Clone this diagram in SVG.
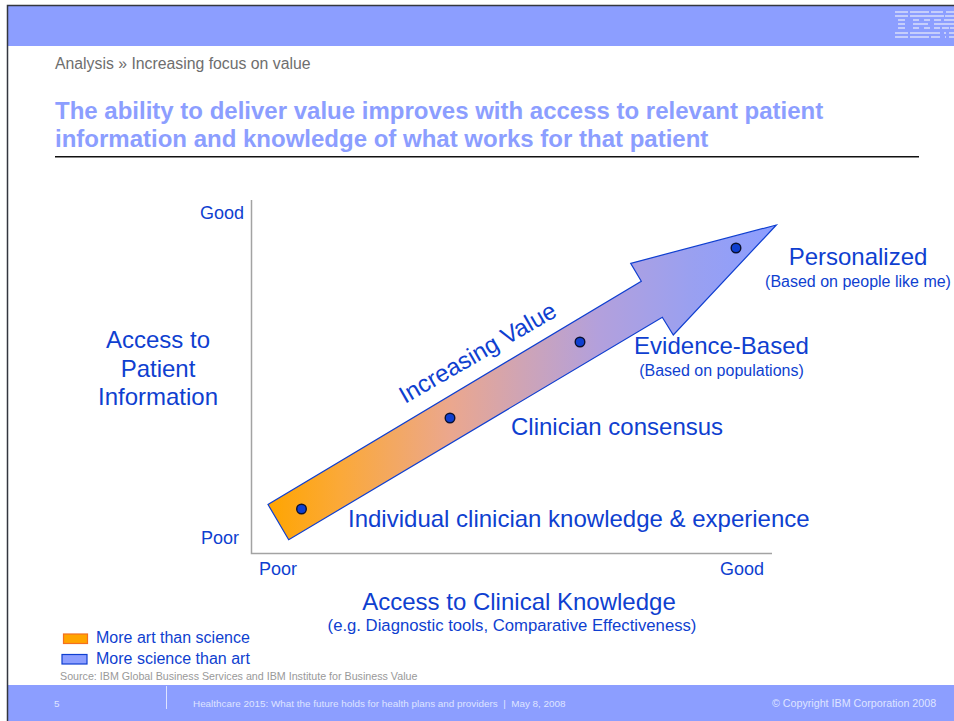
<svg xmlns="http://www.w3.org/2000/svg" width="954" height="721" viewBox="0 0 954 721">
<style>
text{font-family:"Liberation Sans",Arial,sans-serif;fill:#0f3fd0;white-space:pre}
.big{font-size:24px}
.mid{font-size:18px}
.sm{font-size:16px}
.ctr{text-anchor:middle}
.title{font-size:24px;font-weight:bold;fill:#8c9eff}
.foot{font-size:9.900px;fill:#dfe4ff}
.dot{fill:#0f3fd0;stroke:#0a1030;stroke-width:1.400}
.ibm{fill:#c6cefb}
</style>
<defs>
<linearGradient id="g" gradientUnits="userSpaceOnUse" x1="268" y1="0" x2="776" y2="0">
<stop offset="0" stop-color="#ffa500"/>
<stop offset="0.14" stop-color="#fba938"/>
<stop offset="0.36" stop-color="#eba78e"/>
<stop offset="0.5" stop-color="#cfa4b5"/>
<stop offset="0.65" stop-color="#b3a0dc"/>
<stop offset="0.83" stop-color="#9aa0f0"/>
<stop offset="1" stop-color="#8c9eff"/>
</linearGradient>
</defs>
<rect width="954" height="721" fill="#fff"/>
<rect x="8" y="6" width="946" height="40" fill="#8c9eff"/>
<rect x="8" y="685" width="946" height="36" fill="#8c9eff"/>
<path d="M7.500 721V5.500H954" fill="none" stroke="#33363f" stroke-width="1.500"/>
<g id="ibm-logo" class="ibm">
<rect x="895" y="11" width="13" height="2"/><rect x="910" y="11" width="19" height="2"/><rect x="931" y="11" width="12" height="2"/><rect x="946" y="11" width="8" height="2"/>
<rect x="895" y="15" width="13" height="2"/><rect x="910" y="15" width="21" height="2"/><rect x="931" y="15" width="13" height="2"/><rect x="945" y="15" width="9" height="2"/>
<rect x="898" y="19" width="7" height="2"/><rect x="913" y="19" width="6" height="2"/><rect x="924" y="19" width="6" height="2"/><rect x="934" y="19" width="7" height="2"/><rect x="944" y="19" width="10" height="2"/>
<rect x="898" y="23" width="7" height="2"/><rect x="913" y="23" width="15" height="2"/><rect x="934" y="23" width="20" height="2"/>
<rect x="898" y="27" width="7" height="2"/><rect x="913" y="27" width="6" height="2"/><rect x="924" y="27" width="6" height="2"/><rect x="934" y="27" width="6" height="2"/><rect x="942" y="27" width="7" height="2"/><rect x="950" y="27" width="4" height="2"/>
<rect x="895" y="32" width="13" height="2"/><rect x="910" y="32" width="21" height="2"/><rect x="931" y="32" width="9" height="2"/><rect x="944" y="32" width="2" height="2"/><rect x="949" y="32" width="5" height="2"/>
<rect x="895" y="36" width="13" height="2"/><rect x="910" y="36" width="19" height="2"/><rect x="931" y="36" width="9" height="2"/><rect x="945" y="36" width="1" height="2"/><rect x="949" y="36" width="5" height="2"/>
</g>
<text x="55" y="69" style="font-size:15.800px;fill:#6e6e6e">Analysis » Increasing focus on value</text>
<text x="55" y="119" class="title">The ability to deliver value improves with access to relevant patient</text>
<text x="55" y="147" class="title">information and knowledge of what works for that patient</text>
<rect x="55" y="156" width="864" height="1.500" fill="#111"/>
<g id="connectors">
<path d="M251.500 200V553.500H772" fill="none" stroke="#a3a3a3" stroke-width="1.500"/>
</g>
<g id="arrow">
<polygon points="268,504.500 288.700,539.700 662.300,317.300 673.300,335 776.300,225 630.700,263.300 641.300,281.300" fill="url(#g)" stroke="#0f3fd0" stroke-width="1.200" stroke-linejoin="miter"/>
<text transform="translate(405,404) rotate(-30)" class="big">Increasing Value</text>
</g>
<g id="node-individual"><circle class="dot" cx="301.500" cy="509" r="4.800"/>
<text x="348" y="527" class="big">Individual clinician knowledge &amp; experience</text></g>
<g id="node-consensus"><circle class="dot" cx="450" cy="418" r="4.800"/>
<text x="511" y="435" class="big">Clinician consensus</text></g>
<g id="node-evidence"><circle class="dot" cx="580" cy="342" r="4.800"/>
<text x="721.500" y="354" class="big ctr">Evidence-Based</text>
<text x="721.500" y="376" class="sm ctr">(Based on populations)</text></g>
<g id="node-personalized"><circle class="dot" cx="736" cy="248" r="4.800"/>
<text x="858" y="265" class="big ctr">Personalized</text>
<text x="858" y="287" class="sm ctr">(Based on people like me)</text></g>
<g id="axis-labels">
<text x="244" y="219" class="mid" text-anchor="end">Good</text>
<text x="239" y="544" class="mid" text-anchor="end">Poor</text>
<text x="259" y="575" class="mid">Poor</text>
<text x="720" y="575" class="mid">Good</text>
<text x="158" y="348" class="big ctr">Access to</text>
<text x="158" y="377" class="big ctr">Patient</text>
<text x="158" y="405" class="big ctr">Information</text>
<text x="519" y="610" class="big ctr">Access to Clinical Knowledge</text>
<text x="512" y="631" style="font-size:16.700px" class="ctr">(e.g. Diagnostic tools, Comparative Effectiveness)</text>
</g>
<g id="legend">
<rect x="63.500" y="634" width="24" height="9.500" fill="#ffa500" stroke="#f4701f" stroke-width="1.200"/>
<text x="96" y="643" class="sm">More art than science</text>
<rect x="62" y="654.500" width="25" height="9.500" fill="#8c9eff" stroke="#0f3fd0" stroke-width="1.200"/>
<text x="96" y="664" class="sm">More science than art</text>
</g>
<text x="60" y="680" style="font-size:10.700px;fill:#999">Source: IBM Global Business Services and IBM Institute for Business Value</text>
<g id="footer">
<rect x="166" y="686" width="1" height="23" fill="#dfe4ff"/>
<text x="54" y="707" class="foot">5</text>
<text x="193" y="707" class="foot">Healthcare 2015: What the future holds for health plans and providers  |  May 8, 2008</text>
<text x="772" y="707" class="foot" style="font-size:10.700px">© Copyright IBM Corporation 2008</text>
</g>
</svg>
